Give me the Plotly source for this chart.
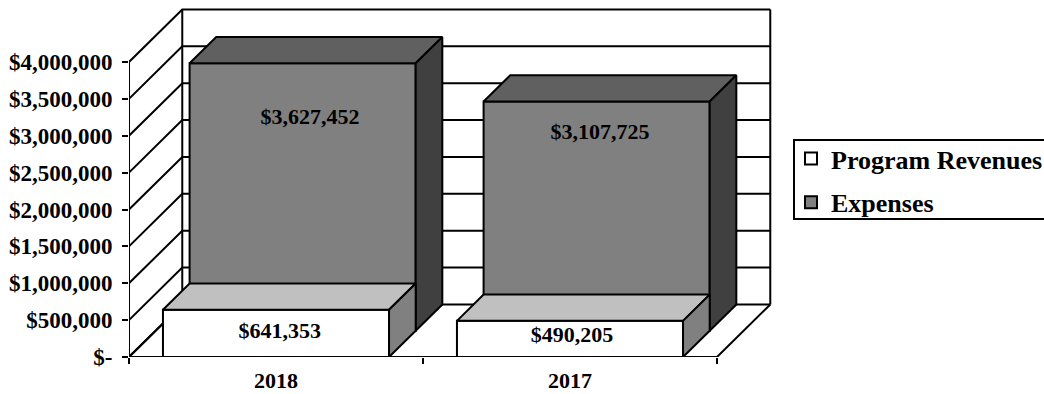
import plotly.graph_objects as go

# Chart data
categories = ["2018", "2017"]
program_revenues = [641353, 490205]
expenses = [3627452, 3107725]
y_ticks = [0, 500000, 1000000, 1500000, 2000000, 2500000, 3000000, 3500000, 4000000]
y_tick_labels = ["$-", "$500,000", "$1,000,000", "$1,500,000", "$2,000,000",
                 "$2,500,000", "$3,000,000", "$3,500,000", "$4,000,000"]
value_labels_revenue = ["$641,353", "$490,205"]
value_labels_expenses = ["$3,627,452", "$3,107,725"]

# Oblique projection: one depth row shifts right and up by these amounts
ROW_DX = 0.0906       # category units
ROW_DY = 356000       # dollars
BAR_WIDTH = 0.769
BAR_GAP = (1 - BAR_WIDTH) / 2
Y_MAX = 4000000

# Label anchors in axis units
revenue_label_x = [0.513, 1.507]
revenue_label_y = [330000, 275000]
expense_label_x = [0.616, 1.602]
expense_label_y = [3240000, 3037000]

FONT = "Liberation Serif"
BLACK = "#000000"
LINE_W = 2


def edge(xs, ys, width=LINE_W):
    return go.Scatter(x=xs, y=ys, mode="lines", line=dict(color=BLACK, width=width),
                      hoverinfo="skip", showlegend=False, cliponaxis=False)


def poly(xs, ys, color):
    return go.Scatter(x=xs + xs[:1], y=ys + ys[:1], mode="lines", fill="toself",
                      fillcolor=color, line=dict(color=BLACK, width=LINE_W),
                      hoverinfo="skip", showlegend=False, cliponaxis=False)


def box(index, row, value, front, top, side):
    """Front, top and right faces of a bar standing in the given depth row."""
    x0 = index + BAR_GAP + row * ROW_DX
    x1 = x0 + BAR_WIDTH
    y0 = row * ROW_DY
    y1 = y0 + value
    return [
        poly([x0, x1, x1, x0], [y0, y0, y1, y1], front),
        poly([x0, x1, x1 + ROW_DX, x0 + ROW_DX],
             [y1, y1, y1 + ROW_DY, y1 + ROW_DY], top),
        poly([x1, x1 + ROW_DX, x1 + ROW_DX, x1],
             [y0, y0 + ROW_DY, y1 + ROW_DY, y1], side),
    ]


fig = go.Figure()

n = len(categories)
back_dx, back_dy = 2 * ROW_DX, 2 * ROW_DY

# Wall grid: diagonal across the side wall, then level along the back wall
grid_x, grid_y = [], []
for tick in y_ticks:
    grid_x += [0, back_dx, n + back_dx, None]
    grid_y += [tick, tick + back_dy, tick + back_dy, None]
fig.add_trace(edge(grid_x, grid_y))

# Wall and floor outlines
fig.add_trace(edge([0, 0, None, back_dx, back_dx, None, n + back_dx, n + back_dx, None, 0, n, n + back_dx],
                   [0, Y_MAX, None, back_dy, Y_MAX + back_dy, None, back_dy, Y_MAX + back_dy, None, 0, 0, back_dy]))
fig.add_trace(edge([0, back_dx], [0, back_dy]))

# Bars, back row first so the front row overlaps it
for i in range(n):
    for t in box(i, 1, expenses[i], "#808080", "#606060", "#404040"):
        fig.add_trace(t)
    for t in box(i, 0, program_revenues[i], "#FFFFFF", "#C0C0C0", "#808080"):
        fig.add_trace(t)

# Redraw the baseline over the bar feet
fig.add_trace(edge([0, n], [0, 0]))

# Value labels
label_font = dict(family=FONT, size=22, color=BLACK, weight="bold")
fig.add_trace(go.Scatter(x=expense_label_x, y=expense_label_y, text=value_labels_expenses,
                         mode="text", textposition="middle center", textfont=label_font,
                         hoverinfo="skip", showlegend=False, cliponaxis=False))
fig.add_trace(go.Scatter(x=revenue_label_x, y=revenue_label_y, text=value_labels_revenue,
                         mode="text", textposition="middle center", textfont=label_font,
                         hoverinfo="skip", showlegend=False, cliponaxis=False))

# Legend entries
for name, color, group in [("Program Revenues", "#FFFFFF", "a"), ("Expenses", "#808080", "b")]:
    fig.add_trace(go.Scatter(x=[None], y=[None], mode="markers", name=name, legendgroup=group,
                             marker=dict(symbol="square", size=17, color=color,
                                         line=dict(color=BLACK, width=2))))

# Plot area in page pixels: left 129, right 780, floor front edge 357, top 5
W, H = 1044, 394
PX_PER_CAT = 294
PX_PER_DOLLAR = 295 / Y_MAX
L, R, T, B = 129, 780, 5, 357

fig.update_layout(
    width=W, height=H,
    margin=dict(l=L, r=W - R, t=T, b=H - B, autoexpand=False),
    paper_bgcolor="white", plot_bgcolor="rgba(0,0,0,0)",
    font=dict(family=FONT, color=BLACK),
    xaxis=dict(range=[0, (R - L) / PX_PER_CAT],
               tickmode="array", tickvals=[i + 0.5 for i in range(n)], ticktext=categories,
               ticks="", showgrid=False, zeroline=False, showline=False,
               tickfont=dict(family=FONT, size=22, color=BLACK, weight="bold"),
               ticklabelstandoff=8,
               minor=dict(tick0=0, dtick=1, ticks="outside", ticklen=6, tickwidth=2,
                          tickcolor=BLACK, showgrid=False)),
    yaxis=dict(range=[0, (B - T) / PX_PER_DOLLAR],
               tickmode="array", tickvals=y_ticks, ticktext=y_tick_labels,
               ticks="outside", ticklen=6, tickwidth=2, tickcolor=BLACK,
               showgrid=False, zeroline=False, showline=False,
               tickfont=dict(family=FONT, size=23, color=BLACK, weight="bold"),
               ticklabelstandoff=5),
    legend=dict(x=(791 - L) / (R - L), xanchor="left", y=(B - 135) / (B - T), yanchor="top",
                bgcolor="rgba(0,0,0,0)", borderwidth=0, traceorder="grouped",
                tracegroupgap=7, itemsizing="constant", itemclick=False, itemdoubleclick=False,
                font=dict(family=FONT, size=26, color=BLACK, weight="bold")),
    shapes=[dict(type="rect", xref="paper", yref="paper", layer="below",
                 x0=(794 - L) / (R - L), x1=(1050 - L) / (R - L),
                 y0=(B - 219) / (B - T), y1=(B - 140) / (B - T),
                 line=dict(color=BLACK, width=2), fillcolor="white")],
)

fig.write_html("out.html", config=dict(displayModeBar=False))
